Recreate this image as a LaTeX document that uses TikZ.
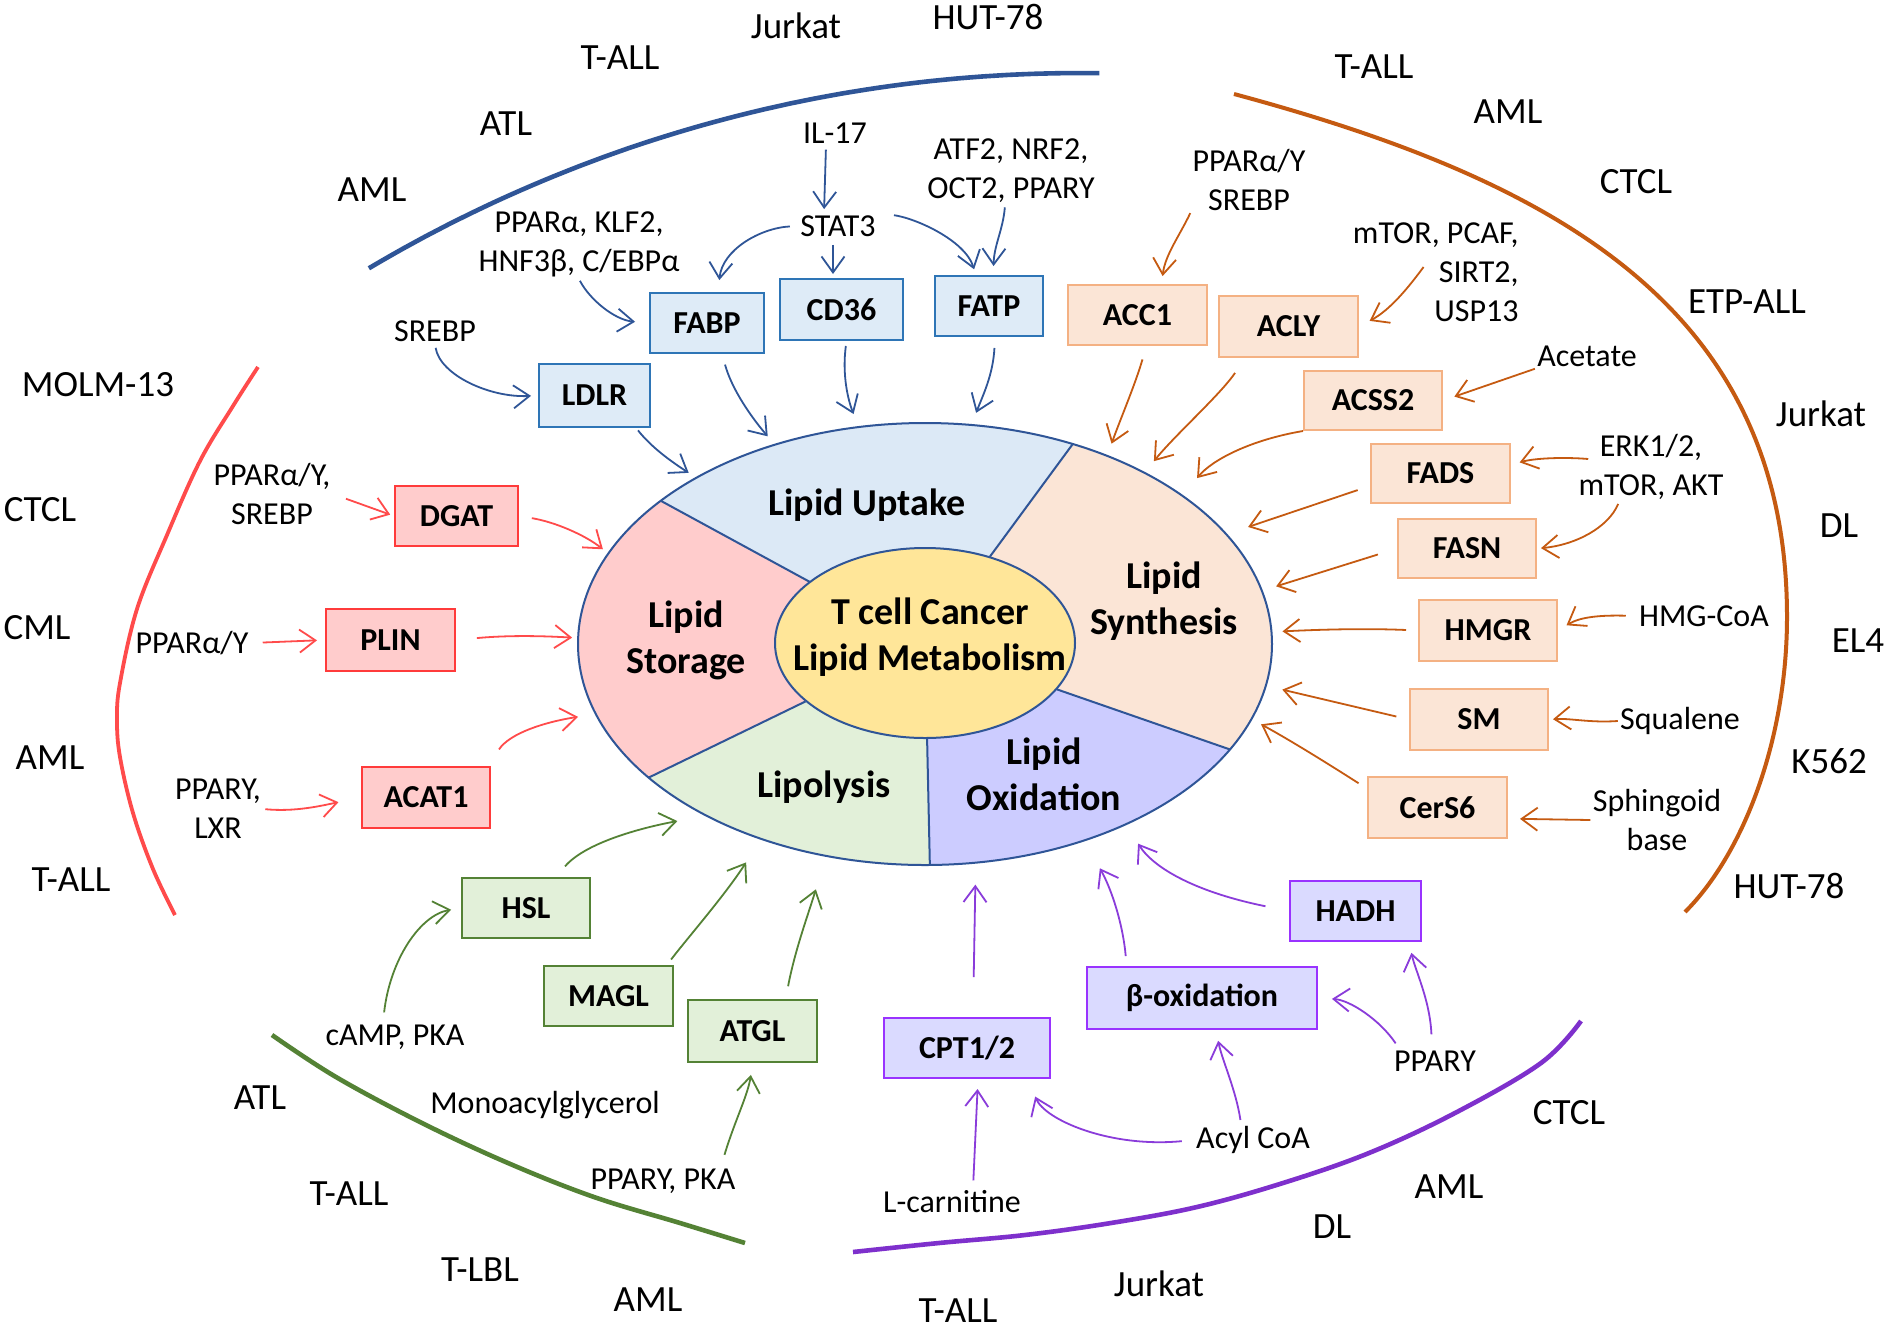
\documentclass[tikz,border=0pt]{standalone}
\usepackage{fontspec}
\setmainfont{Carlito}
\usetikzlibrary{arrows.meta,shapes.geometric}
\definecolor{bluearc}{HTML}{2F5597}
\definecolor{bluearrow}{HTML}{2F5597}
\definecolor{bluefill}{HTML}{DEEBF7}
\definecolor{blueborder}{HTML}{2E75B6}
\definecolor{orangearc}{HTML}{C55A11}
\definecolor{orangearrow}{HTML}{C55A11}
\definecolor{orangefill}{HTML}{FBE5D6}
\definecolor{orangeborder}{HTML}{F4B183}
\definecolor{redarc}{HTML}{FF4B4B}
\definecolor{redarrow}{HTML}{FF4B4B}
\definecolor{redfill}{HTML}{FFCCCC}
\definecolor{redborder}{HTML}{FF3B3B}
\definecolor{greenarc}{HTML}{548235}
\definecolor{greenarrow}{HTML}{548235}
\definecolor{greenfill}{HTML}{E2F0D9}
\definecolor{greenborder}{HTML}{548235}
\definecolor{purplearc}{HTML}{7E30CC}
\definecolor{purplearrow}{HTML}{8A3CDA}
\definecolor{purplefill}{HTML}{DADAFF}
\definecolor{purpleborder}{HTML}{9933FF}
\definecolor{secup}{HTML}{DCE9F6}
\definecolor{secsyn}{HTML}{FBE5D6}
\definecolor{secox}{HTML}{CCCCFF}
\definecolor{seclip}{HTML}{E2F0D9}
\definecolor{secsto}{HTML}{FFCCCC}
\definecolor{centerfill}{HTML}{FFE699}
\definecolor{outline}{HTML}{2F5597}
\begin{document}
\begin{tikzpicture}[x=0.5pt,y=-0.5pt,
  cellline/.style={font=\fontsize{18.5}{22}\selectfont, inner sep=1pt},
  reg/.style={font=\fontsize{16}{19.5}\selectfont, inner sep=1pt, align=center},
  boxbase/.style={draw, line width=1pt, inner sep=2pt, font=\fontsize{16}{19}\selectfont\bfseries},
  bbox/.style={boxbase, fill=bluefill, draw=blueborder},
  obox/.style={boxbase, fill=orangefill, draw=orangeborder},
  rbox/.style={boxbase, fill=redfill, draw=redborder},
  gbox/.style={boxbase, fill=greenfill, draw=greenborder},
  pbox/.style={boxbase, fill=purplefill, draw=purpleborder},
  sector/.style={font=\fontsize{19}{23}\selectfont\bfseries, align=center, inner sep=1pt},
  arr/.style={line width=0.9pt, -{Straight Barb[length=8pt,width=11.5pt]}},
  barr/.style={arr, color=bluearrow},
  oarr/.style={arr, color=orangearrow},
  rarr/.style={arr, color=redarrow},
  garr/.style={arr, color=greenarrow},
  parr/.style={arr, color=purplearrow},
  bigarc/.style={line width=2.3pt}
]
\fill[white] (0,0) rectangle (1890,1334);
\useasboundingbox (0,0) rectangle (1890,1334);

% ---------- central ellipse sectors ----------
\begin{scope}
  \clip (925,644) ellipse [x radius=173.5pt, y radius=110.5pt];
  \begin{scope}[shift={(925,644)}]
    \fill[secup]  (0,0) -- (220.4:600 and 382) -- (257.7:600 and 382) -- (295.2:600 and 382) -- cycle;
    \fill[secsyn] (0,0) -- (295.2:600 and 382) -- (342:600 and 382) -- (388.5:600 and 382) -- cycle;
    \fill[secox]  (0,0) -- (28.5:600 and 382) -- (58.9:600 and 382) -- (89.2:600 and 382) -- cycle;
    \fill[seclip] (0,0) -- (89.2:600 and 382) -- (116:600 and 382) -- (142.8:600 and 382) -- cycle;
    \fill[secsto] (0,0) -- (142.8:600 and 382) -- (181.6:600 and 382) -- (220.4:600 and 382) -- cycle;
  \end{scope}
\end{scope}
\node[ellipse, draw=outline, line width=1pt, minimum width=347pt, minimum height=221pt, inner sep=0pt] (cell) at (925,644) {};
\begin{scope}[shift={(925,644)}, outline, line width=1pt]
  \draw (220.4:150 and 95) -- (220.4:347 and 221);
  \draw (295.2:150 and 95) -- (295.2:347 and 221);
  \draw (28.5:150 and 95) -- (28.5:347 and 221);
  \draw (89.2:150 and 95) -- (89.2:347 and 221);
  \draw (142.8:150 and 95) -- (142.8:347 and 221);
\end{scope}
\node[ellipse, fill=centerfill, draw=outline, line width=1pt, minimum width=150pt, minimum height=95pt, inner sep=0pt] (core) at (925,643) {};

\node[sector] (tcell) at (930,637) {T cell Cancer\\Lipid Metabolism};
\node[sector] (uptake) at (867,505) {Lipid Uptake};
\node[sector] (synth) at (1164,601) {Lipid\\Synthesis};
\node[sector] (oxid) at (1044,774) {Lipid\\Oxidation};
\node[sector] (lipol) at (824,787) {Lipolysis};
\node[sector] (stor) at (686,640) {Lipid\\Storage};

% ---------- arcs ----------
\draw[bigarc, bluearc] plot[domain=89.2:120.7, samples=60, variable=\t] ({1080+1393*cos(\t)},{1466-1393*sin(\t)});
\draw[line width=2pt, orangearc] (1234,94) .. controls (1554,180) and (1787,307) .. (1787,617) .. controls (1787,737) and (1745,852) .. (1685,912);
\draw[line width=1.9pt, redarc] plot[smooth, tension=0.6] coordinates {(258,367) (233,406) (200,461) (167,535) (137,609) (120,683) (117,720) (120,757) (133,813) (153,869) (175,915)};
\draw[bigarc, greenarc] plot[smooth, tension=0.6] coordinates {(272,1035) (336,1077) (422,1123) (508,1163) (594,1197) (680,1223) (745,1243)};
\draw[bigarc, purplearc] plot[smooth, tension=0.6] coordinates {(853,1252) (939,1243) (1025,1235) (1111,1223) (1197,1207) (1283,1183) (1369,1153) (1455,1113) (1541,1063) (1581,1021)};

% ---------- cell line labels ----------
\node[cellline] (bAML) at (372,190) {AML};
\node[cellline] (bATL) at (506,124) {ATL};
\node[cellline] (bTALL) at (620,58) {T-ALL};
\node[cellline] (bJurkat) at (796,26) {Jurkat};
\node[cellline] (bHUT) at (988,17) {HUT-78};
\node[cellline] (oTALL) at (1374,67) {T-ALL};
\node[cellline] (oAML) at (1508,112) {AML};
\node[cellline] (oCTCL) at (1636,182) {CTCL};
\node[cellline] (oETP) at (1747,302) {ETP-ALL};
\node[cellline] (oJurkat) at (1821,414) {Jurkat};
\node[cellline] (oDL) at (1839,526) {DL};
\node[cellline] (oEL4) at (1858,641) {EL4};
\node[cellline] (oK562) at (1829,761) {K562};
\node[cellline] (oHUT) at (1789,886) {HUT-78};
\node[cellline] (rMOLM) at (98,385) {MOLM-13};
\node[cellline] (rCTCL) at (40,510) {CTCL};
\node[cellline] (rCML) at (37,628) {CML};
\node[cellline] (rAML) at (50,758) {AML};
\node[cellline] (rTALL) at (71,880) {T-ALL};
\node[cellline] (gATL) at (260,1098) {ATL};
\node[cellline] (gTALL) at (349,1194) {T-ALL};
\node[cellline] (gTLBL) at (480,1270) {T-LBL};
\node[cellline] (gAML) at (648,1300) {AML};
\node[cellline] (pTALL) at (958,1311) {T-ALL};
\node[cellline] (pJurkat) at (1159,1284) {Jurkat};
\node[cellline] (pDL) at (1332,1227) {DL};
\node[cellline] (pAML) at (1449,1187) {AML};
\node[cellline] (pCTCL) at (1569,1113) {CTCL};

% ---------- regulator labels ----------
\node[reg] (il17) at (835,133) {IL-17};
\node[reg] (stat3) at (838,226) {STAT3};
\node[reg] (ppark) at (579,244) {PPARα, KLF2,\\HNF3β, C/EBPα};
\node[reg] (srebp1) at (435,331) {SREBP};
\node[reg] (oct) at (1011,171) {ATF2, NRF2,\\OCT2, PPARY};
\node[reg] (ppars) at (1249,180) {PPARα/Y\\SREBP};
\node[reg, align=right, anchor=east] (mtor) at (1521,272) {mTOR, PCAF,\\SIRT2,\\USP13};
\node[reg] (acetate) at (1587,356) {Acetate};
\node[reg] (erk) at (1651,467) {ERK1/2,\\mTOR, AKT};
\node[reg] (hmgcoa) at (1704,616) {HMG-CoA};
\node[reg] (squalene) at (1680,721) {Squalene};
\node[reg] (sphing) at (1657,820) {Sphingoid\\base};
\node[reg] (ppary2) at (1435,1061) {PPARY};
\node[reg] (acyl) at (1253,1140) {Acyl CoA};
\node[reg] (lcarn) at (952,1202) {L-carnitine};
\node[reg] (ppkpka) at (663,1181) {PPARY, PKA};
\node[reg] (mono) at (545,1105) {Monoacylglycerol};
\node[reg] (camp) at (395,1037) {cAMP, PKA};
\node[reg] (pplxr) at (218,809) {PPARY,\\LXR};
\node[reg] (ppar3) at (192,643) {PPARα/Y};
\node[reg] (ppsreb) at (272,494) {PPARα/Y,\\SREBP};

% ---------- boxes ----------
\node[bbox, minimum width=57pt, minimum height=30pt] (fabp) at (707,323) {FABP};
\node[bbox, minimum width=61.5pt, minimum height=30.5pt] (cd36) at (841.5,309.5) {CD36};
\node[bbox, minimum width=54pt, minimum height=30pt] (fatp) at (989,306) {FATP};
\node[bbox, minimum width=55.5pt, minimum height=31.5pt] (ldlr) at (594.5,395.5) {LDLR};
\node[obox, minimum width=69.5pt, minimum height=30pt] (acc1) at (1137.5,315) {ACC1};
\node[obox, minimum width=69.5pt, minimum height=30.5pt] (acly) at (1288.5,326.5) {ACLY};
\node[obox, minimum width=69pt, minimum height=29.5pt] (acss2) at (1373,400.5) {ACSS2};
\node[obox, minimum width=69.5pt, minimum height=29.5pt] (fads) at (1440.5,473.5) {FADS};
\node[obox, minimum width=69pt, minimum height=29.5pt] (fasn) at (1467,548.5) {FASN};
\node[obox, minimum width=69pt, minimum height=30.5pt] (hmgr) at (1488,630.5) {HMGR};
\node[obox, minimum width=69pt, minimum height=30.5pt] (sm) at (1479,719.5) {SM};
\node[obox, minimum width=69.5pt, minimum height=30.5pt] (cers6) at (1437.5,807.5) {CerS6};
\node[rbox, minimum width=61.5pt, minimum height=30pt] (dgat) at (456.5,516) {DGAT};
\node[rbox, minimum width=64.5pt, minimum height=31pt] (plin) at (390.5,640) {PLIN};
\node[rbox, minimum width=64pt, minimum height=30.5pt] (acat1) at (426,797.5) {ACAT1};
\node[gbox, minimum width=64pt, minimum height=30pt] (hsl) at (526,908) {HSL};
\node[gbox, minimum width=64.5pt, minimum height=30pt] (magl) at (608.5,996) {MAGL};
\node[gbox, minimum width=64.5pt, minimum height=31pt] (atgl) at (752.5,1031) {ATGL};
\node[pbox, minimum width=65.5pt, minimum height=30pt] (hadh) at (1355.5,911) {HADH};
\node[pbox, minimum width=115pt, minimum height=31pt] (betaox) at (1202,998) {β-oxidation};
\node[pbox, minimum width=83pt, minimum height=30pt] (cpt) at (967,1048) {CPT1/2};

% ---------- blue arrows ----------
\draw[barr, shorten <=2pt, shorten >=2pt] ([xshift=-4.5pt]il17.south) -- ([xshift=-7pt]stat3.north);
\draw[barr, shorten <=4pt, shorten >=6pt] (stat3.west) .. controls (760,228) and (722,250) .. (fabp.70);
\draw[barr, shorten <=3pt, shorten >=2pt] ([xshift=-2.5pt]stat3.south) -- ([xshift=-4.25pt]cd36.north);
\draw[barr, shorten <=8pt, shorten >=3pt] (stat3.north east) .. controls (915,218) and (965,240) .. (fatp.113);
\draw[barr, shorten <=1pt, shorten >=4.5pt] ([xshift=-3pt]oct.south) .. controls (1003,230) and (994,245) .. (fatp.82);
\draw[barr, shorten <=1pt, shorten >=7pt] (ppark.south) .. controls (590,300) and (615,320) .. (fabp.west);
\draw[barr, shorten <=2pt, shorten >=3.5pt] (srebp1.south) .. controls (440,375) and (490,398) .. (ldlr.west);
\draw[barr, shorten <=5.5pt, shorten >=5pt] (fabp.-64) .. controls (732,390) and (752,418) .. (cell.127);
\draw[barr, shorten <=2.5pt, shorten >=6.5pt] (cd36.-81) .. controls (842,375) and (848,400) .. (cell.107);
\draw[barr, shorten <=5.5pt, shorten >=6pt] (fatp.-79) .. controls (993,375) and (983,395) .. (cell.78);
\draw[barr, shorten <=1.5pt, shorten >=4pt] (ldlr.-38) .. controls (652,448) and (672,462) .. (cell.144);

% ---------- orange arrows ----------
\draw[oarr, shorten >=4pt] (ppars.south west) .. controls (1180,235) and (1165,255) .. (acc1.52);
\draw[oarr, shorten >=6pt] ([shift={(36.5pt,2.5pt)}]mtor.west) .. controls (1408,288) and (1390,310) .. (acly.east);
\draw[oarr, shorten >=6pt] (acetate.south west) -- (acss2.east);
\draw[oarr, shorten >=4.5pt] ([shift={(6pt,4pt)}]erk.west) .. controls (1565,457) and (1535,458) .. (fads.7);
\draw[oarr, shorten <=1pt, shorten >=2pt] ([xshift=-16pt]erk.south) .. controls (1608,528) and (1575,545) .. (fasn.east);
\draw[oarr, shorten <=5.5pt, shorten >=5pt] (hmgcoa.west) .. controls (1600,615) and (1580,617) .. (hmgr.east);
\draw[oarr, shorten >=2pt] (squalene.west) .. controls (1590,723) and (1570,718) .. (sm.east);
\draw[oarr, shorten >=6pt] (sphing.west) -- (cers6.-9);
\draw[oarr, shorten <=7pt, shorten >=6pt] (acc1.-74) .. controls (1135,385) and (1120,420) .. (cell.46);
\draw[oarr, shorten <=9pt, shorten >=7pt] (acly.-144) .. controls (1220,395) and (1175,435) .. (cell.38);
\draw[oarr, shorten >=11pt] (acss2.south west) .. controls (1250,440) and (1212,460) .. (cell.30);
\draw[oarr, shorten <=6.5pt, shorten >=11pt] (fads.190) -- (cell.20);
\draw[oarr, shorten <=10pt, shorten >=7pt] (fasn.west) -- (cell.9);
\draw[oarr, shorten <=6pt, shorten >=5pt] (hmgr.west) .. controls (1360,628) and (1310,630) .. (cell.2);
\draw[oarr, shorten <=6.5pt, shorten >=8pt] (sm.west) -- (cell.-7);
\draw[oarr, shorten <=5pt, shorten >=5pt] (cers6.165) .. controls (1330,765) and (1290,740) .. (cell.-13);

% ---------- red arrows ----------
\draw[rarr, shorten <=7pt, shorten >=2pt] (ppsreb.east) -- (dgat.west);
\draw[rarr, shorten <=6.5pt, shorten >=3pt] (dgat.east) .. controls (555,522) and (585,535) .. (cell.164);
\draw[rarr, shorten <=6pt, shorten >=4pt] (ppar3.east) -- (plin.west);
\draw[rarr, shorten <=10.5pt, shorten >=2.5pt] (plin.east) .. controls (510,635) and (545,636) .. (cell.179);
\draw[rarr, shorten <=1pt, shorten >=11.5pt] (pplxr.east) .. controls (295,812) and (320,806) .. (acat1.west);
\draw[rarr, shorten <=10pt, shorten >=8.5pt] (acat1.27) .. controls (510,733) and (545,722) .. (cell.192);

% ---------- green arrows ----------
\draw[garr, shorten <=5pt, shorten >=5pt] ([xshift=-6pt]camp.north) .. controls (390,960) and (420,915) .. (hsl.west);
\draw[garr, shorten <=7pt, shorten >=14pt] (hsl.46) .. controls (585,843) and (640,828) .. (cell.218);
\draw[garr, shorten <=3.5pt, shorten >=13.5pt] (magl.28) .. controls (690,935) and (725,895) .. (cell.230);
\draw[garr, shorten <=6.5pt, shorten >=17pt] (atgl.44) .. controls (795,950) and (808,915) .. (cell.245);
\draw[garr, shorten <=6pt, shorten >=6pt] ([xshift=29pt]ppkpka.north) .. controls (735,1120) and (748,1095) .. (atgl.south);

% ---------- purple arrows ----------
\draw[parr, shorten <=4pt, shorten >=5pt] ([xshift=10.5pt]lcarn.north) -- ([xshift=5.5pt]cpt.south);
\draw[parr, shorten <=6pt, shorten >=9.5pt] (acyl.west) .. controls (1110,1148) and (1045,1120) .. (cpt.-27);
\draw[parr, shorten <=2pt, shorten >=5.5pt] ([xshift=-6pt]acyl.north) .. controls (1236,1090) and (1222,1060) .. ([xshift=7pt]betaox.south);
\draw[parr, shorten <=3pt, shorten >=7pt] ([xshift=-18pt]ppary2.north) .. controls (1380,1020) and (1350,1000) .. (betaox.east);
\draw[parr, shorten <=7pt, shorten >=5.5pt] ([xshift=-1.5pt]ppary2.north) .. controls (1430,1000) and (1415,970) .. (hadh.-30);
\draw[parr, shorten <=20pt, shorten >=10.5pt] ([xshift=3pt]cpt.north) -- (cell.-77);
\draw[parr, shorten <=5pt, shorten >=15.5pt] (betaox.157) .. controls (1123,925) and (1112,890) .. (cell.-51);
\draw[parr, shorten <=12pt, shorten >=11pt] (hadh.west) .. controls (1200,893) and (1155,870) .. (cell.-42);
\end{tikzpicture}
\end{document}
